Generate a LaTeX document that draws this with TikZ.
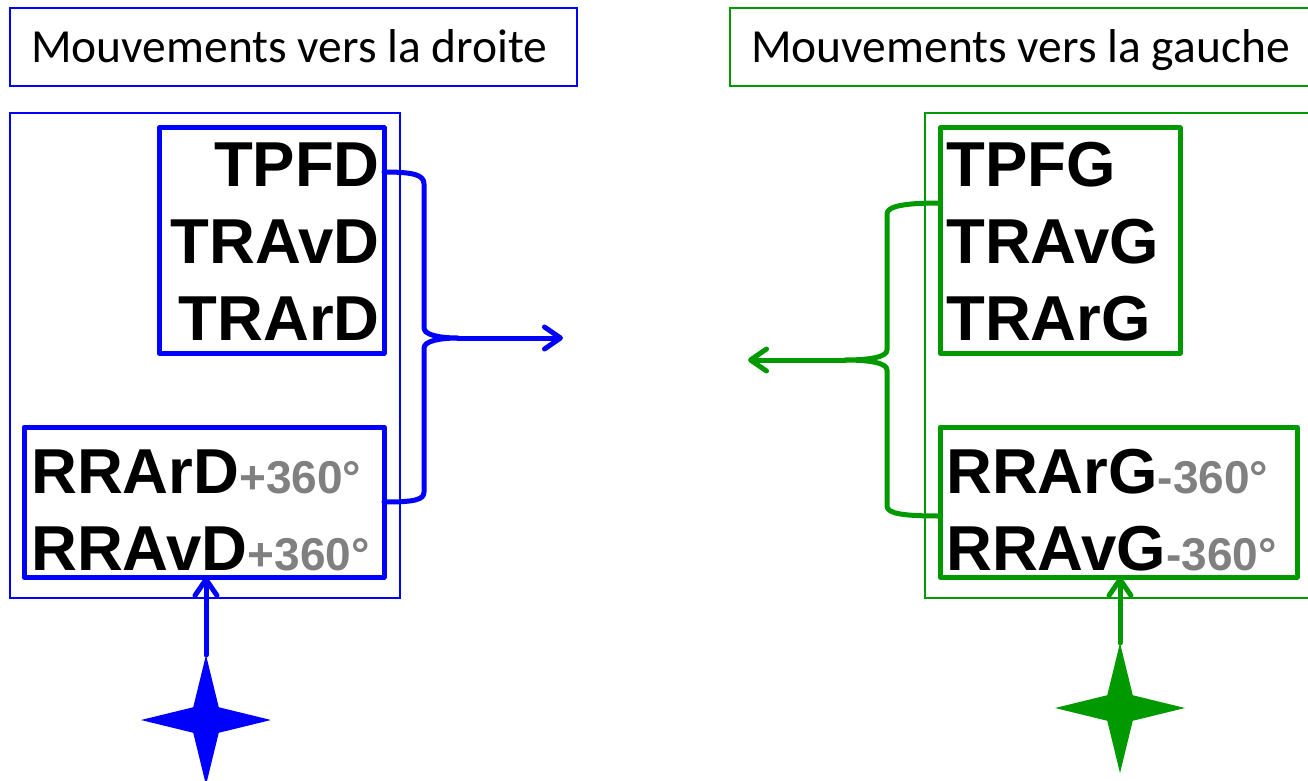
\documentclass[tikz,border=0pt]{standalone}
\usepackage{fontspec}
\setmainfont{Liberation Sans}
\newfontfamily\titlefont{Carlito}
\usetikzlibrary{arrows.meta,shapes.geometric}
\definecolor{cblue}{RGB}{0,0,255}
\definecolor{cgreen}{RGB}{0,153,0}
\definecolor{cgray}{RGB}{128,128,128}
\newcommand{\degtxt}[1]{\textcolor{cgray}{\fontsize{46}{46}\selectfont #1}}
\begin{document}
\begin{tikzpicture}[x=1pt,y=-1pt,
  thinbox/.style={draw, line width=2.4pt, inner sep=0pt, outer sep=0pt},
  thickbox/.style={draw, line width=5pt, inner sep=0pt, outer sep=0pt, line join=round},
  ttl/.style={font=\titlefont\fontsize{47.5}{47.5}\selectfont, inner sep=0pt},
  big/.style={font=\bfseries\fontsize{63.5}{63.5}\selectfont, inner sep=0pt},
  link/.style={line width=5pt, line cap=round, line join=round},
  arr/.style={link, -{Straight Barb[length=16pt,width=22pt,line cap=round,round]}},
  spark/.style={star, star points=4, star point ratio=3.6, inner sep=0pt, outer sep=0pt, minimum size=130pt, draw=none}
]
\useasboundingbox (0,0) rectangle (1308,781);

% ---------- left (droite) ----------
\node[thinbox, draw=cblue, minimum width=567pt, minimum height=78pt] (titleL) at (293.5,47) {};
\node[ttl, anchor=base west] (titleLtxt) at (31,63) {Mouvements vers la droite};
\node[thinbox, draw=cblue, minimum width=390pt, minimum height=485pt] (outerL) at (205,355.5) {};
\node[thickbox, draw=cblue, minimum width=225pt, minimum height=225pt] (boxLT) at (271.5,240.5) {};
\node[thickbox, draw=cblue, minimum width=360pt, minimum height=150pt] (boxLB) at (204,502) {};

\node[big, anchor=base east] (tLa) at (380,186) {TPFD};
\node[big, anchor=base east] (tLb) at (380,263) {TRAvD};
\node[big, anchor=base east] (tLc) at (380,340) {TRArD};
\node[big, anchor=base west] (tLd) at (31,493) {RRArD\degtxt{+360°}};
\node[big, anchor=base west] (tLe) at (31,570) {RRAvD\degtxt{+360°}};

\coordinate (bLt) at (384,172);
\coordinate (bLb) at (384,502);
\coordinate (bLtip) at (458,338);
\coordinate (aLend) at (563,338);
\draw[link, draw=cblue] (bLt) .. controls (414,172) and (424,175) .. (424,184) -- (424,328)
  .. controls (424,335) and (440,338) .. (bLtip)
  .. controls (440,338) and (424,341) .. (424,348) -- (424,492)
  .. controls (424,500) and (414,502) .. (bLb);
\draw[arr, draw=cblue] (bLtip) -- (aLend);

\node[spark, fill=cblue] (starL) at (206,720) {};
\draw[arr, draw=cblue] (starL.north) -- (starL.north |- boxLB.south);

% ---------- right (gauche) ----------
\node[thinbox, draw=cgreen, minimum width=590pt, minimum height=78pt] (titleR) at (1025,47) {};
\node[ttl, anchor=base west] (titleRtxt) at (751,63) {Mouvements vers la gauche};
\node[thinbox, draw=cgreen, minimum width=395pt, minimum height=485pt] (outerR) at (1122.5,355.5) {};
\node[thickbox, draw=cgreen, minimum width=240pt, minimum height=225pt] (boxRT) at (1060,240.5) {};
\node[thickbox, draw=cgreen, minimum width=357pt, minimum height=150pt] (boxRB) at (1118.5,502) {};

\node[big, anchor=base west] (tRa) at (946,186) {TPFG};
\node[big, anchor=base west] (tRb) at (946,263) {TRAvG};
\node[big, anchor=base west] (tRc) at (946,340) {TRArG};
\node[big, anchor=base west] (tRd) at (946,493) {RRArG\degtxt{-360°}};
\node[big, anchor=base west] (tRe) at (946,570) {RRAvG\degtxt{-360°}};

\coordinate (bRt) at (940,203);
\coordinate (bRb) at (940,516);
\coordinate (bRtip) at (845,360);
\coordinate (aRend) at (748,360);
\draw[link, draw=cgreen] (bRt) .. controls (905,203) and (887,206) .. (887,214) -- (887,350)
  .. controls (887,357) and (870,360) .. (bRtip)
  .. controls (870,360) and (887,363) .. (887,370) -- (887,506)
  .. controls (887,514) and (905,516) .. (bRb);
\draw[arr, draw=cgreen] (bRtip) -- (aRend);

\node[spark, fill=cgreen] (starR) at (1120,708) {};
\draw[arr, draw=cgreen] (starR.north) -- (starR.north |- boxRB.south);
\end{tikzpicture}
\end{document}
